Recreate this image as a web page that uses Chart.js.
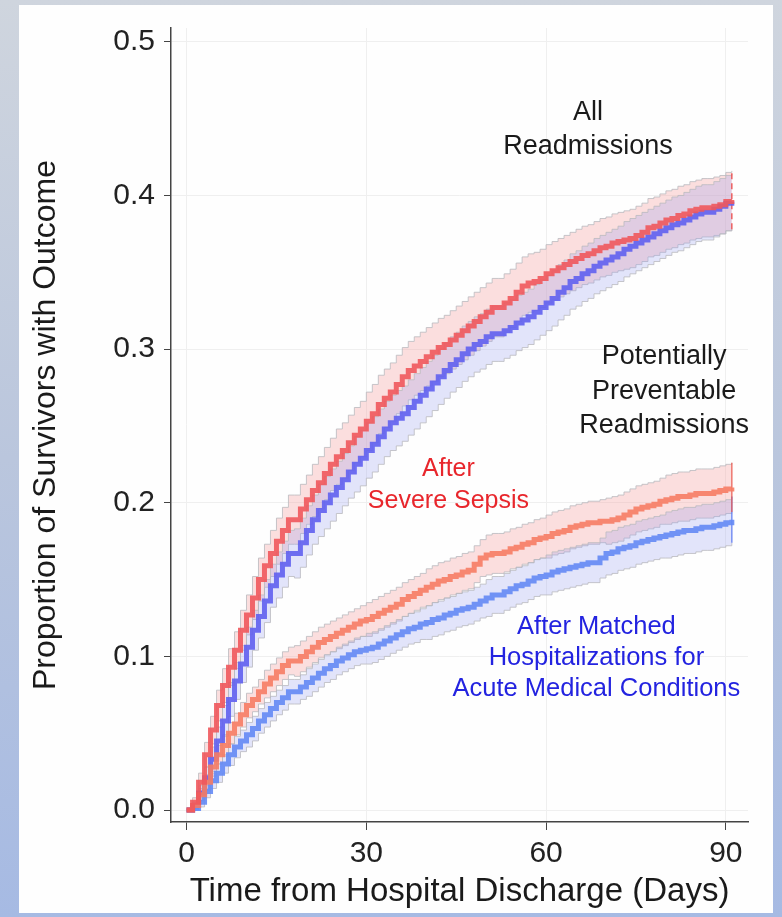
<!DOCTYPE html>
<html><head><meta charset="utf-8">
<script src="https://cdn.jsdelivr.net/npm/chart.js@4.4.1/dist/chart.umd.min.js"></script>
<style>
html,body{margin:0;padding:0;width:782px;height:917px;overflow:hidden;background:linear-gradient(to bottom,#cfd5de 0%,#bac6dd 50%,#a6bae3 100%);}
#panel{position:absolute;left:19px;top:5px;width:754px;height:908px;background:#fefefe;}
#wrap{position:absolute;left:0;top:0;width:782px;height:917px;}
</style></head><body>
<div id="panel"></div>
<div id="wrap"><canvas id="c" width="782" height="917"></canvas></div>
<script>
// Days since discharge
const days = [0,1,2,3,4,5,6,7,8,9,10,11,12,13,14,15,16,17,18,19,20,21,22,23,24,25,26,27,28,29,30,31,32,33,34,35,36,37,38,39,40,41,42,43,44,45,46,47,48,49,50,51,52,53,54,55,56,57,58,59,60,61,62,63,64,65,66,67,68,69,70,71,72,73,74,75,76,77,78,79,80,81,82,83,84,85,86,87,88,89,90,91];

// All readmissions – after severe sepsis (red)
const allSepsis = [0,.005,.018,.036,.052,.068,.081,.093,.104,.117,.127,.138,.150,.159,.167,.175,.182,.189,.189,.196,.202,.208,.213,.219,.225,.230,.234,.239,.244,.248,.253,.258,.264,.268,.272,.277,.282,.286,.289,.292,.295,.298,.301,.303,.306,.309,.312,.315,.318,.321,.324,.327,.327,.330,.333,.337,.341,.343,.344,.346,.349,.351,.353,.355,.357,.359,.361,.362,.364,.366,.367,.369,.370,.371,.372,.374,.376,.379,.380,.382,.384,.385,.387,.388,.390,.391,.392,.392,.393,.394,.396,.397];
const allSepsisCI = [0,.003,.006,.008,.009,.010,.011,.012,.012,.013,.013,.014,.014,.014,.015,.015,.015,.016,.016,.016,.016,.017,.017,.017,.017,.018,.018,.018,.018,.018,.019,.019,.019,.019,.019,.019,.019,.019,.019,.019,.019,.019,.019,.019,.019,.019,.019,.019,.019,.019,.019,.019,.019,.019,.019,.019,.019,.019,.019,.019,.019,.019,.019,.019,.019,.019,.019,.019,.019,.019,.019,.019,.019,.019,.019,.019,.019,.019,.019,.019,.019,.019,.019,.019,.019,.019,.019,.019,.019,.019,.019,.019];

// All readmissions – after matched hospitalizations (blue)
const allMatched = [0,.003,.011,.021,.033,.045,.058,.072,.084,.095,.106,.117,.126,.136,.146,.153,.160,.167,.167,.174,.182,.189,.195,.200,.205,.210,.215,.220,.225,.229,.234,.238,.243,.248,.252,.255,.258,.262,.266,.270,.274,.278,.282,.286,.290,.293,.297,.300,.303,.305,.308,.310,.310,.312,.314,.317,.319,.321,.324,.327,.330,.333,.337,.340,.344,.346,.349,.351,.354,.356,.358,.360,.362,.365,.367,.369,.371,.373,.375,.377,.379,.381,.382,.384,.386,.388,.389,.389,.391,.393,.395,.396];
const allMatchedCI = [0,.002,.005,.007,.008,.009,.010,.011,.012,.012,.013,.013,.014,.014,.014,.015,.015,.015,.016,.016,.016,.016,.017,.017,.017,.017,.017,.017,.018,.018,.018,.018,.018,.018,.018,.018,.018,.018,.018,.018,.018,.018,.018,.018,.018,.018,.018,.018,.018,.018,.018,.018,.018,.018,.018,.018,.018,.018,.018,.018,.018,.018,.018,.018,.018,.018,.018,.018,.018,.018,.018,.018,.018,.018,.018,.018,.018,.018,.018,.018,.018,.018,.018,.018,.018,.018,.018,.018,.018,.018,.018,.018];

// Potentially preventable – after severe sepsis (red)
const prevSepsis = [0,.003,.010,.018,.028,.036,.042,.050,.056,.062,.068,.072,.077,.082,.086,.090,.094,.097,.097,.100,.103,.106,.109,.111,.113,.115,.117,.119,.121,.123,.124,.126,.128,.130,.132,.134,.137,.139,.141,.143,.145,.147,.149,.150,.152,.153,.155,.156,.160,.164,.166,.167,.167,.168,.170,.171,.173,.174,.176,.177,.178,.180,.181,.182,.184,.185,.186,.187,.187,.188,.188,.189,.190,.192,.194,.196,.197,.198,.199,.201,.202,.203,.204,.204,.205,.206,.206,.206,.207,.208,.209,.210];
const prevSepsisCI = [0,.002,.004,.005,.006,.006,.007,.007,.007,.008,.008,.008,.008,.009,.009,.009,.009,.009,.010,.010,.010,.010,.010,.010,.010,.010,.010,.010,.010,.010,.011,.011,.011,.011,.011,.011,.011,.011,.011,.011,.012,.012,.012,.012,.012,.012,.012,.012,.012,.012,.013,.013,.013,.013,.013,.013,.013,.013,.013,.013,.014,.014,.014,.014,.014,.014,.014,.014,.014,.014,.015,.015,.015,.015,.015,.015,.015,.015,.015,.015,.016,.016,.016,.016,.016,.016,.016,.016,.016,.016,.016,.016];

// Potentially preventable – after matched hospitalizations (blue)
const prevMatched = [0,.001,.005,.012,.019,.024,.030,.036,.041,.045,.049,.053,.058,.062,.066,.070,.073,.077,.077,.080,.083,.086,.089,.092,.094,.097,.099,.101,.103,.104,.105,.106,.108,.110,.112,.114,.116,.118,.119,.121,.122,.124,.125,.127,.128,.130,.131,.132,.134,.136,.138,.140,.140,.142,.144,.146,.147,.149,.151,.152,.153,.155,.156,.157,.158,.159,.160,.161,.161,.164,.167,.168,.170,.171,.172,.174,.175,.176,.177,.178,.179,.180,.181,.182,.182,.183,.184,.184,.185,.186,.187,.189];
const prevMatchedCI = [0,.001,.003,.004,.005,.006,.006,.007,.007,.007,.008,.008,.008,.008,.008,.008,.008,.008,.008,.008,.009,.009,.009,.009,.009,.009,.009,.009,.009,.009,.010,.010,.010,.010,.010,.010,.010,.010,.010,.010,.011,.011,.011,.011,.011,.011,.011,.011,.011,.011,.012,.012,.012,.012,.012,.012,.012,.012,.012,.012,.013,.013,.013,.013,.013,.013,.013,.013,.013,.013,.014,.014,.014,.014,.014,.014,.014,.014,.014,.014,.015,.015,.015,.015,.015,.015,.015,.015,.015,.015,.015,.015];

const xTicks = [0, 30, 60, 90];
const yTicks = [0, 0.1, 0.2, 0.3, 0.4, 0.5];

const pts = arr => days.map((d, i) => ({x: d, y: arr[i]}));
const hi = (arr, ci) => days.map((d, i) => ({x: d, y: arr[i] + ci[i]}));
const lo = (arr, ci) => days.map((d, i) => ({x: d, y: arr[i] - ci[i]}));
const last = days.length - 1;
const endBar = (arr, ci) => [{x: days[last], y: arr[last] - ci[last]}, {x: days[last], y: arr[last] + ci[last]}];

const lineDs = (data, color, order) => ({data, borderColor: color, borderWidth: 5, stepped: true, pointRadius: 0, fill: false, order});
const bandHi = (data, order) => ({data, borderColor: 'rgba(185,185,190,0.8)', borderWidth: 1, stepped: true, pointRadius: 0, fill: false, order});
const bandLo = (data, target, fillColor, order) => ({data, borderColor: 'rgba(185,185,190,0.8)', borderWidth: 1, stepped: true, pointRadius: 0, fill: {target, above: fillColor, below: fillColor}, backgroundColor: fillColor, order});

const RED_BAND = 'rgba(245,150,150,0.30)';
const BLUE_BAND = 'rgba(150,160,240,0.27)';

const datasets = [
  lineDs(pts(allSepsis), 'rgba(240,88,92,0.9)', 1),          //0
  lineDs(pts(allMatched), 'rgba(96,96,240,0.9)', 2),         //1
  lineDs(pts(prevSepsis), 'rgba(246,124,100,0.9)', 1),        //2
  lineDs(pts(prevMatched), 'rgba(100,138,245,0.9)', 2),       //3
  bandHi(hi(allSepsis, allSepsisCI), 12),                      //4
  bandLo(lo(allSepsis, allSepsisCI), 4, RED_BAND, 12),          //5
  bandHi(hi(allMatched, allMatchedCI), 11),                    //6
  bandLo(lo(allMatched, allMatchedCI), 6, BLUE_BAND, 11),       //7
  bandHi(hi(prevSepsis, prevSepsisCI), 12),                    //8
  bandLo(lo(prevSepsis, prevSepsisCI), 8, RED_BAND, 12),        //9
  bandHi(hi(prevMatched, prevMatchedCI), 11),                  //10
  bandLo(lo(prevMatched, prevMatchedCI), 10, BLUE_BAND, 11),    //11
  {data: endBar(allSepsis, allSepsisCI), borderColor: 'rgba(235,80,80,0.9)', borderWidth: 1.5, borderDash: [6,4], pointRadius: 0, fill: false, order: 3},
  {data: endBar(prevSepsis, prevSepsisCI), borderColor: 'rgba(235,90,80,0.8)', borderWidth: 1.5, pointRadius: 0, fill: false, order: 3},
  {data: endBar(prevMatched, prevMatchedCI), borderColor: 'rgba(90,120,240,0.8)', borderWidth: 1.5, pointRadius: 0, fill: false, order: 3}
];

const notes = [
  {lines: ['All', 'Readmissions'], x: 67.0, y: [0.4538, 0.4316], color: '#1a1a1a', size: 27},
  {lines: ['Potentially', 'Preventable', 'Readmissions'], x: 79.7, y: [0.2949, 0.2721, 0.2500], color: '#1a1a1a', size: 27},
  {lines: ['After', 'Severe Sepsis'], x: 43.7, y: [0.2220, 0.2010], color: '#e8262c', size: 25},
  {lines: ['After Matched', 'Hospitalizations for', 'Acute Medical Conditions'], x: 68.4, y: [0.1191, 0.0990, 0.0788], color: '#2323e0', size: 25.5}
];

const notePlugin = {
  id: 'notes',
  afterDatasetsDraw(chart) {
    const {ctx, scales: {x, y}} = chart;
    ctx.save();
    ctx.textAlign = 'center';
    ctx.textBaseline = 'middle';
    notes.forEach(n => {
      ctx.fillStyle = n.color;
      ctx.font = n.size + 'px "Liberation Sans", Arial, sans-serif';
      n.lines.forEach((t, i) => ctx.fillText(t, x.getPixelForValue(n.x), y.getPixelForValue(n.y[i])));
    });
    ctx.restore();
  }
};

const FONT = '"Liberation Sans", Arial, sans-serif';

new Chart(document.getElementById('c'), {
  type: 'line',
  data: {datasets},
  plugins: [notePlugin],
  options: {
    responsive: false,
    devicePixelRatio: 1,
    animation: false,
    events: [],
    layout: {padding: {left: 20, top: 28, right: 34, bottom: 5}},
    plugins: {legend: {display: false}, tooltip: {enabled: false}},
    scales: {
      x: {
        type: 'linear', min: -2.6, max: 93.7,
        afterBuildTicks: s => { s.ticks = xTicks.map(v => ({value: v})); },
        afterFit: s => { s.height = 90; },
        ticks: {font: {family: FONT, size: 30}, color: '#222', padding: 6, maxRotation: 0},
        grid: {color: '#efefef', tickColor: '#444', tickLength: 8, lineWidth: 1},
        border: {color: '#444', width: 1.5},
        title: {display: true, text: 'Time from Hospital Discharge (Days)', font: {family: FONT, size: 33}, color: '#1a1a1a', padding: {top: 0, bottom: 0}}
      },
      y: {
        type: 'linear', min: -0.0078, max: 0.509,
        afterBuildTicks: s => { s.ticks = yTicks.map(v => ({value: v})); },
        afterFit: s => { s.width = 151; },
        ticks: {font: {family: FONT, size: 30}, color: '#222', padding: 9, callback: v => v.toFixed(1)},
        grid: {color: '#efefef', tickColor: '#444', tickLength: 7, lineWidth: 1},
        border: {color: '#444', width: 1.5},
        title: {display: true, text: 'Proportion of Survivors with Outcome', font: {family: FONT, size: 32}, color: '#1a1a1a', padding: {top: 7, bottom: 0}}
      }
    }
  }
});
</script>
</body></html>
